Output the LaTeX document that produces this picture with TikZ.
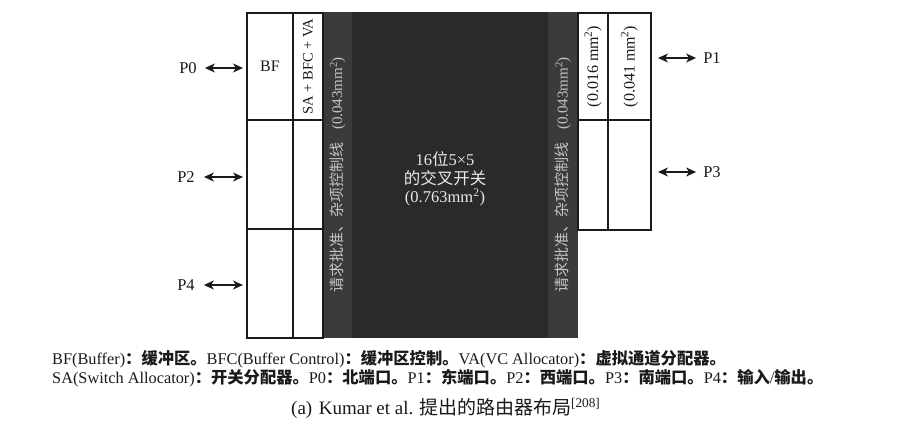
\documentclass[tikz,border=0pt]{standalone}
\usepackage{fontspec}
\setmainfont{Liberation Serif}
\newfontfamily\zh{Noto Sans CJK SC}
\usetikzlibrary{arrows.meta}
% CJK helpers: bold (notes) and regular
\newcommand{\zhb}[1]{{\zh\bfseries #1}}
\newcommand{\zhr}[1]{{\zh #1}}
\definecolor{coregray}{HTML}{2A2A2A}
\definecolor{stripgray}{HTML}{3B3B3B}
\definecolor{striptext}{HTML}{C4C4C4}
\definecolor{coretext}{HTML}{E8E8E8}
\definecolor{ink}{HTML}{1A1A1A}
\begin{document}
\begin{tikzpicture}[x=1pt,y=-1pt,
  cell/.style={draw=ink, line width=1.1pt, inner sep=0pt, outer sep=0pt, anchor=north west},
  celltext/.style={inner sep=0pt, text=ink},
  port/.style={inner sep=0pt, text=ink, font=\fontsize{16.5}{18}\selectfont},
  portarrow/.style={draw=ink, line width=1.5pt,
    {Stealth[length=10pt,width=9pt,inset=3pt]}-{Stealth[length=10pt,width=9pt,inset=3pt]}},
  stripbox/.style={fill=stripgray, inner sep=0pt, outer sep=0pt, text=striptext,
    font=\fontsize{15}{17}\selectfont, minimum width=326pt},
  note/.style={anchor=base west, inner sep=0pt, text=ink, font=\fontsize{16.3}{19}\selectfont}
]
\useasboundingbox (0,0) rectangle (908,434);
\fill[white] (0,0) rectangle (908,434);

% crossbar core
\node[fill=coregray, inner sep=0pt, outer sep=0pt, minimum width=255pt, minimum height=326pt,
      anchor=north west] (core) at (323,12) {};

% control-line strips on both sides of the crossbar
\node[stripbox, rotate=90, minimum height=29pt] (lstrip) at (337.5,175)
  {\zhr{请求批准、杂项控制线}\hspace{13pt}(0.043mm\textsuperscript{2})};
\node[stripbox, rotate=90, minimum height=30pt] (rstrip) at (563,175)
  {\zhr{请求批准、杂项控制线}\hspace{13pt}(0.043mm\textsuperscript{2})};

% crossbar label
\node[align=center, inner sep=0pt, text=coretext, font=\fontsize{16.5}{18.5}\selectfont]
  (xlabel) at (445,179) {16\zhr{位}5×5\\\zhr{的交叉开关}\\(0.763mm\textsuperscript{2})};

% left buffer / allocator columns
\node[cell, minimum width=46pt, minimum height=107pt] (bf) at (247,13) {};
\node[celltext, font=\fontsize{16}{18}\selectfont] (bftxt) at (bf.center) {BF};
\node[cell, minimum width=30pt, minimum height=107pt] (sa) at (293,13) {};
\node[celltext, rotate=90, font=\fontsize{14.5}{17}\selectfont] (satxt) at (sa.center) {SA + BFC + VA};
\node[cell, minimum width=46pt, minimum height=109pt] (w2) at (247,120) {};
\node[cell, minimum width=30pt, minimum height=109pt] (c2) at (293,120) {};
\node[cell, minimum width=46pt, minimum height=109pt] (w3) at (247,229) {};
\node[cell, minimum width=30pt, minimum height=109pt] (c3) at (293,229) {};

% right columns
\node[cell, minimum width=30pt, minimum height=107pt] (e1) at (578,13) {};
\node[celltext, rotate=90, font=\fontsize{16}{18}\selectfont] (e1txt) at (e1.center) {(0.016 mm\textsuperscript{2})};
\node[cell, minimum width=43pt, minimum height=107pt] (e2) at (608,13) {};
\node[celltext, rotate=90, font=\fontsize{16}{18}\selectfont] (e2txt) at (e2.center) {(0.041 mm\textsuperscript{2})};
\node[cell, minimum width=30pt, minimum height=110pt] (e3) at (578,120) {};
\node[cell, minimum width=43pt, minimum height=110pt] (e4) at (608,120) {};

% ports
\node[port] (p0) at (188,68) {P0};
\node[port] (p2) at (186,177) {P2};
\node[port] (p4) at (186,285) {P4};
\node[port] (p1) at (712,58) {P1};
\node[port] (p3) at (712,172) {P3};

\draw[portarrow] ([xshift=8pt]p0.east) -- ([xshift=-4pt]p0.east -| bf.west);
\draw[portarrow] ([xshift=9pt]p2.east) -- ([xshift=-4pt]p2.east -| w2.west);
\draw[portarrow] ([xshift=9pt]p4.east) -- ([xshift=-4pt]p4.east -| w3.west);
\draw[portarrow] ([xshift=7pt]p1.west -| e2.east) -- ([xshift=-7pt]p1.west);
\draw[portarrow] ([xshift=7pt]p3.west -| e4.east) -- ([xshift=-7pt]p3.west);

% abbreviations
\node[note] (note1) at (52,364.7)
  {BF(Buffer)\zhb{：缓冲区。}BFC(Buffer Control)\zhb{：缓冲区控制。}VA(VC Allocator)\zhb{：虚拟通道分配器。}};
\node[note] (note2) at (52,383.5)
  {SA(Switch Allocator)\zhb{：开关分配器。}P0\zhb{：北端口。}P1\zhb{：东端口。}P2\zhb{：西端口。}P3\zhb{：南端口。}P4\zhb{：输入}/\zhb{输出。}};

% caption
\node[anchor=base west, inner sep=0pt, text=ink, font=\fontsize{19}{22}\selectfont] (caption) at (291,414)
  {(a)\hspace{0.35em}Kumar et al.\hspace{0.3em}\zhr{提出的路由器布局}\textsuperscript{[208]}};
\end{tikzpicture}
\end{document}
